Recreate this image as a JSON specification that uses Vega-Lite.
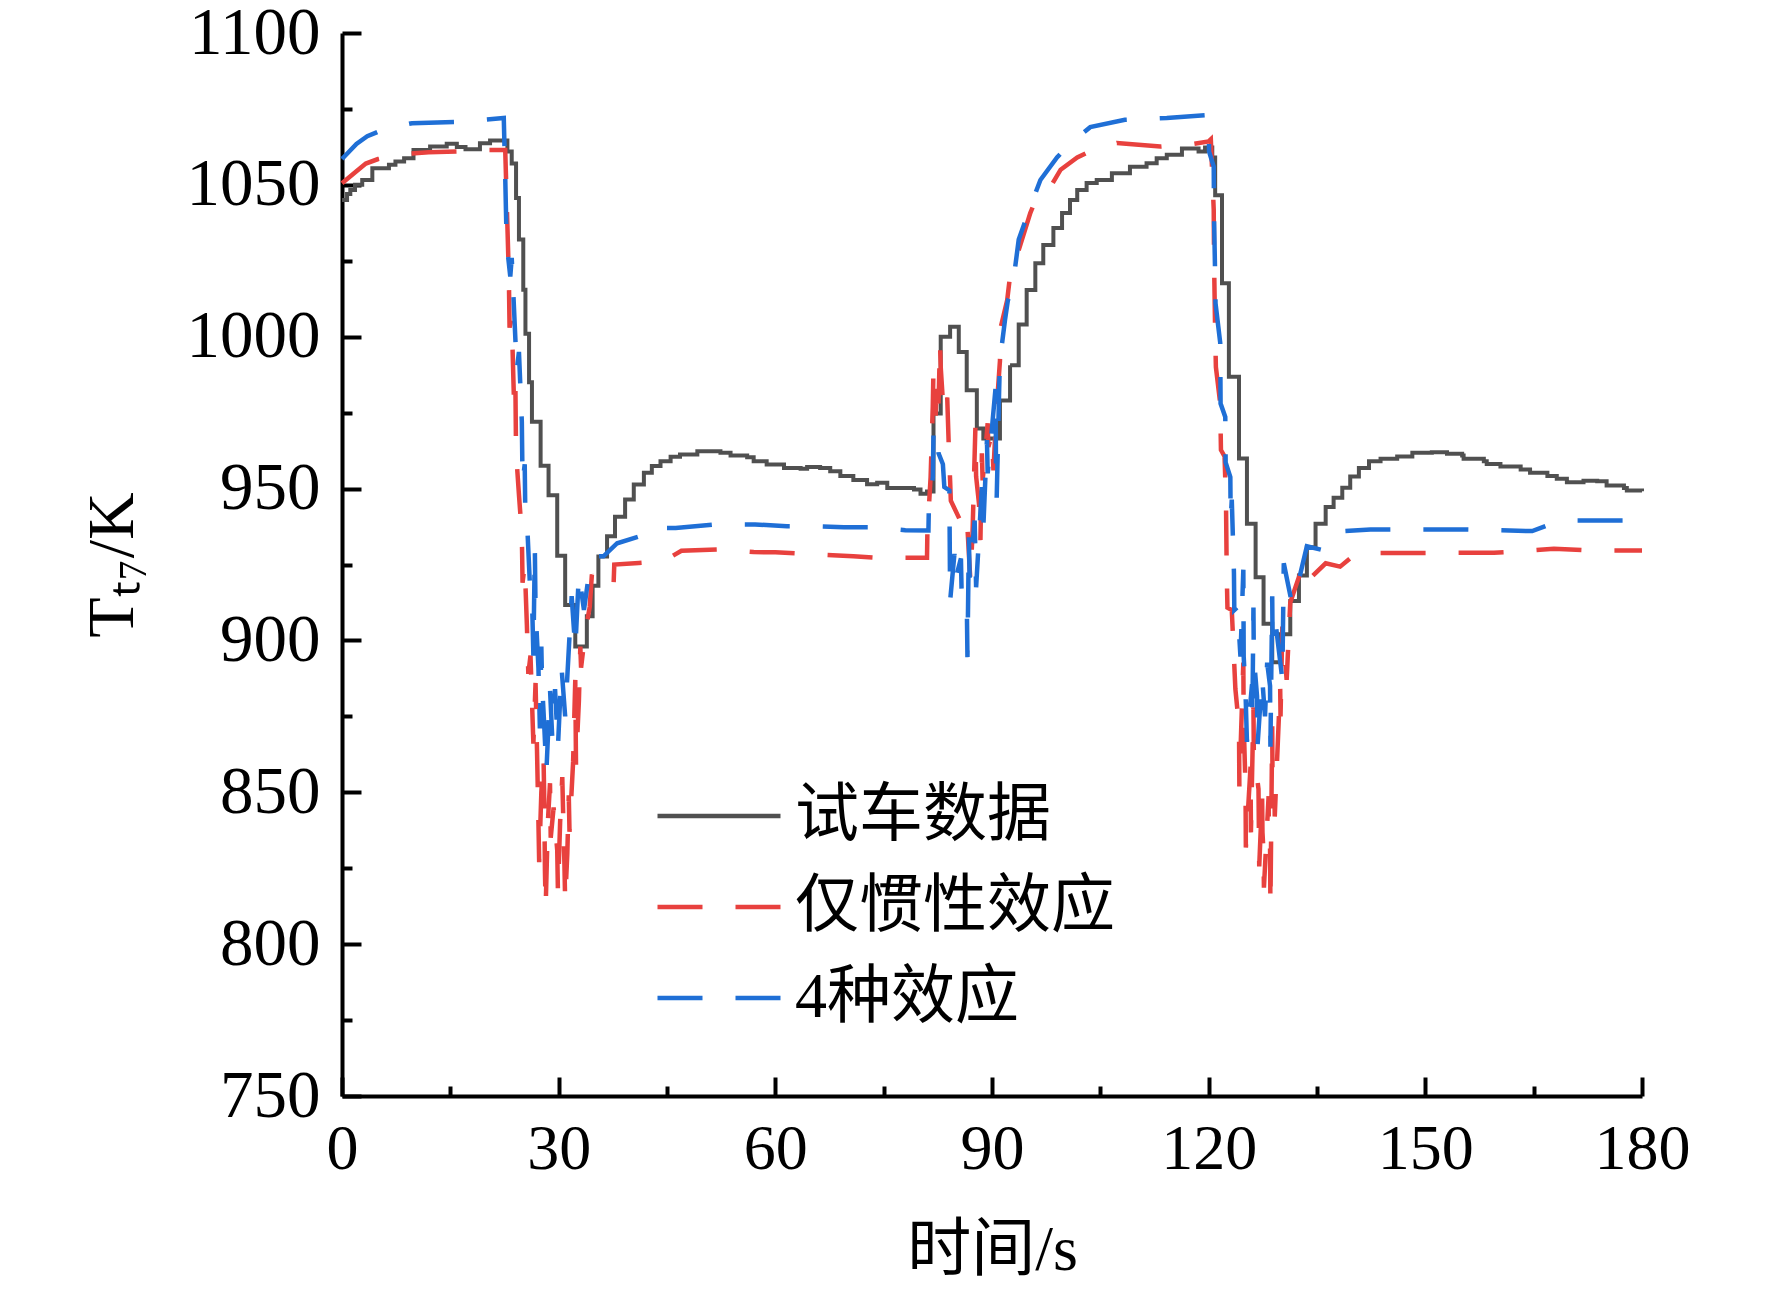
{
 "$schema": "https://vega.github.io/schema/vega-lite/v6.json",
 "width": 1300, "height": 1063,
 "autosize": {"type": "none"},
 "padding": {"left": 342, "top": 33, "right": 130, "bottom": 195},
 "background": "white",
 "config": {"view": {"stroke": null}, "font": "Liberation Serif"},
 "data": {"values": [
{"s":"试车数据","t":0,"v":1045},{"s":"试车数据","t":0.7,"v":1047},{"s":"试车数据","t":1.15,"v":1048.3},{"s":"试车数据","t":1.8,"v":1050},{"s":"试车数据","t":2.8,"v":1051.6},{"s":"试车数据","t":4.2,"v":1055.5},{"s":"试车数据","t":6.5,"v":1056.6},{"s":"试车数据","t":7.4,"v":1057.7},{"s":"试车数据","t":8.6,"v":1058.8},{"s":"试车数据","t":9.9,"v":1061.5},{"s":"试车数据","t":12.2,"v":1062.6},{"s":"试车数据","t":14.5,"v":1063.5},{"s":"试车数据","t":15.9,"v":1062.5},{"s":"试车数据","t":17.1,"v":1061.7},{"s":"试车数据","t":19.1,"v":1063.7},{"s":"试车数据","t":20.5,"v":1064.6},{"s":"试车数据","t":22.9,"v":1061},{"s":"试车数据","t":23.5,"v":1057},{"s":"试车数据","t":24.1,"v":1045.7},{"s":"试车数据","t":24.5,"v":1032},{"s":"试车数据","t":25.1,"v":1015.5},{"s":"试车数据","t":25.4,"v":1001},{"s":"试车数据","t":25.9,"v":985},{"s":"试车数据","t":26.3,"v":972},{"s":"试车数据","t":27.5,"v":957.5},{"s":"试车数据","t":28.6,"v":947.8},{"s":"试车数据","t":29.8,"v":927.9},{"s":"试车数据","t":30.9,"v":911.7},{"s":"试车数据","t":32.3,"v":898},{"s":"试车数据","t":33.9,"v":908},{"s":"试车数据","t":34.7,"v":918},{"s":"试车数据","t":35.5,"v":927.6},{"s":"试车数据","t":36.7,"v":934.3},{"s":"试车数据","t":37.8,"v":940.7},{"s":"试车数据","t":39.2,"v":946.4},{"s":"试车数据","t":40.4,"v":951.3},{"s":"试车数据","t":41.8,"v":955.2},{"s":"试车数据","t":42.9,"v":957.4},{"s":"试车数据","t":44.1,"v":959},{"s":"试车数据","t":45.5,"v":960.5},{"s":"试车数据","t":46.8,"v":961.2},{"s":"试车数据","t":49.2,"v":962.3},{"s":"试车数据","t":52.4,"v":961.8},{"s":"试车数据","t":53.8,"v":960.9},{"s":"试车数据","t":56.1,"v":960.3},{"s":"试车数据","t":57,"v":959},{"s":"试车数据","t":58.8,"v":957.9},{"s":"试车数据","t":61.2,"v":956.8},{"s":"试车数据","t":63.5,"v":956.5},{"s":"试车数据","t":64.4,"v":957.1},{"s":"试车数据","t":66.2,"v":956.8},{"s":"试车数据","t":67.6,"v":955.7},{"s":"试车数据","t":69,"v":954.1},{"s":"试车数据","t":70.8,"v":952.8},{"s":"试车数据","t":72.7,"v":951.4},{"s":"试车数据","t":74.1,"v":951.9},{"s":"试车数据","t":75.5,"v":950.2},{"s":"试车数据","t":79.2,"v":949.7},{"s":"试车数据","t":80.1,"v":948.3},{"s":"试车数据","t":81,"v":949},{"s":"试车数据","t":81.9,"v":974.7},{"s":"试车数据","t":82.9,"v":1000},{"s":"试车数据","t":84.2,"v":1003.3},{"s":"试车数据","t":85.4,"v":995},{"s":"试车数据","t":86.5,"v":982.4},{"s":"试车数据","t":87.9,"v":969.8},{"s":"试车数据","t":88.8,"v":966.5},{"s":"试车数据","t":91.1,"v":979},{"s":"试车数据","t":92.5,"v":990.6},{"s":"试车数据","t":93.7,"v":1004},{"s":"试车数据","t":94.8,"v":1015.4},{"s":"试车数据","t":96,"v":1024.2},{"s":"试车数据","t":97.1,"v":1030.2},{"s":"试车数据","t":98.5,"v":1035.8},{"s":"试车数据","t":99.7,"v":1040.7},{"s":"试车数据","t":100.8,"v":1045},{"s":"试车数据","t":101.8,"v":1048.3},{"s":"试车数据","t":103.1,"v":1050.6},{"s":"试车数据","t":104.5,"v":1051.6},{"s":"试车数据","t":106.6,"v":1053.8},{"s":"试车数据","t":109.1,"v":1056},{"s":"试车数据","t":111.4,"v":1057.1},{"s":"试车数据","t":112.8,"v":1058.8},{"s":"试车数据","t":114.2,"v":1059.9},{"s":"试车数据","t":116.3,"v":1062},{"s":"试车数据","t":118.6,"v":1061},{"s":"试车数据","t":119.5,"v":1062.3},{"s":"试车数据","t":120.5,"v":1059},{"s":"试车数据","t":120.9,"v":1046.6},{"s":"试车数据","t":121.85,"v":1017.6},{"s":"试车数据","t":122.8,"v":986.8},{"s":"试车数据","t":124.2,"v":959.9},{"s":"试车数据","t":125.3,"v":938.4},{"s":"试车数据","t":126.5,"v":920.8},{"s":"试车数据","t":127.6,"v":905.5},{"s":"试车数据","t":128.8,"v":892.8},{"s":"试车数据","t":129.9,"v":902},{"s":"试车数据","t":131.3,"v":913},{"s":"试车数据","t":132.5,"v":921.4},{"s":"试车数据","t":133.6,"v":930.7},{"s":"试车数据","t":134.8,"v":938.4},{"s":"试车数据","t":136.2,"v":943.9},{"s":"试车数据","t":137.3,"v":947},{"s":"试车数据","t":138.5,"v":950.3},{"s":"试车数据","t":139.6,"v":954},{"s":"试车数据","t":140.8,"v":956.8},{"s":"试车数据","t":142.2,"v":959},{"s":"试车数据","t":143.8,"v":959.8},{"s":"试车数据","t":146.1,"v":960.6},{"s":"试车数据","t":148.2,"v":961.8},{"s":"试车数据","t":150.9,"v":962},{"s":"试车数据","t":153,"v":961.5},{"s":"试车数据","t":155.1,"v":960.9},{"s":"试车数据","t":155.3,"v":959.8},{"s":"试车数据","t":158.1,"v":959},{"s":"试车数据","t":158.5,"v":958.1},{"s":"试车数据","t":160.4,"v":957.3},{"s":"试车数据","t":163.2,"v":956.3},{"s":"试车数据","t":164.5,"v":955.2},{"s":"试车数据","t":166.9,"v":954.1},{"s":"试车数据","t":168.2,"v":953.2},{"s":"试车数据","t":169.6,"v":952.1},{"s":"试车数据","t":171.9,"v":952.6},{"s":"试车数据","t":173.8,"v":952.4},{"s":"试车数据","t":175.1,"v":951},{"s":"试车数据","t":177.5,"v":950.2},{"s":"试车数据","t":177.9,"v":949.4},{"s":"试车数据","t":180,"v":949.1},
{"s":"仅惯性效应","t":0,"v":1050.5},{"s":"仅惯性效应","t":1,"v":1052.5},{"s":"仅惯性效应","t":2,"v":1054.5},{"s":"仅惯性效应","t":3.3,"v":1057},{"s":"仅惯性效应","t":5,"v":1058.5},{"s":"仅惯性效应","t":8,"v":1060},{"s":"仅惯性效应","t":12,"v":1060.7},{"s":"仅惯性效应","t":16,"v":1061},{"s":"仅惯性效应","t":20,"v":1061.5},{"s":"仅惯性效应","t":22.6,"v":1061.5},{"s":"仅惯性效应","t":22.8,"v":1045},{"s":"仅惯性效应","t":23.1,"v":1020},{"s":"仅惯性效应","t":23.2,"v":1003},{"s":"仅惯性效应","t":23.5,"v":1006},{"s":"仅惯性效应","t":23.8,"v":980},{"s":"仅惯性效应","t":24,"v":986},{"s":"仅惯性效应","t":24.1,"v":962},{"s":"仅惯性效应","t":24.5,"v":948},{"s":"仅惯性效应","t":24.9,"v":935},{"s":"仅惯性效应","t":25,"v":919},{"s":"仅惯性效应","t":25.3,"v":925},{"s":"仅惯性效应","t":25.6,"v":905},{"s":"仅惯性效应","t":25.8,"v":889},{"s":"仅惯性效应","t":26.1,"v":895},{"s":"仅惯性效应","t":26.5,"v":866},{"s":"仅惯性效应","t":26.8,"v":886},{"s":"仅惯性效应","t":27,"v":864},{"s":"仅惯性效应","t":27.2,"v":840},{"s":"仅惯性效应","t":27.3,"v":827},{"s":"仅惯性效应","t":27.6,"v":850},{"s":"仅惯性效应","t":27.9,"v":862},{"s":"仅惯性效应","t":28,"v":848},{"s":"仅惯性效应","t":28.1,"v":824},{"s":"仅惯性效应","t":28.2,"v":812},{"s":"仅惯性效应","t":28.5,"v":840},{"s":"仅惯性效应","t":28.8,"v":853},{"s":"仅惯性效应","t":28.9,"v":835},{"s":"仅惯性效应","t":29.3,"v":845},{"s":"仅惯性效应","t":29.8,"v":831},{"s":"仅惯性效应","t":29.9,"v":817},{"s":"仅惯性效应","t":30.2,"v":840},{"s":"仅惯性效应","t":30.5,"v":855},{"s":"仅惯性效应","t":30.6,"v":845},{"s":"仅惯性效应","t":30.8,"v":826},{"s":"仅惯性效应","t":30.9,"v":814},{"s":"仅惯性效应","t":31.2,"v":830},{"s":"仅惯性效应","t":31.4,"v":849},{"s":"仅惯性效应","t":31.5,"v":837},{"s":"仅惯性效应","t":32,"v":860},{"s":"仅惯性效应","t":32.3,"v":887},{"s":"仅惯性效应","t":32.4,"v":859},{"s":"仅惯性效应","t":32.8,"v":880},{"s":"仅惯性效应","t":33,"v":898},{"s":"仅惯性效应","t":33.1,"v":891},{"s":"仅惯性效应","t":33.7,"v":903},{"s":"仅惯性效应","t":34.3,"v":911},{"s":"仅惯性效应","t":34.6,"v":921.7},{"s":"仅惯性效应","t":35.2,"v":918},{"s":"仅惯性效应","t":37.6,"v":918},{"s":"仅惯性效应","t":37.7,"v":925},{"s":"仅惯性效应","t":41.1,"v":925.5},{"s":"仅惯性效应","t":44.5,"v":926.1},{"s":"仅惯性效应","t":47,"v":929.5},{"s":"仅惯性效应","t":52.2,"v":930},{"s":"仅惯性效应","t":57,"v":929.1},{"s":"仅惯性效应","t":60,"v":929},{"s":"仅惯性效应","t":64,"v":928.5},{"s":"仅惯性效应","t":70.8,"v":927.7},{"s":"仅惯性效应","t":74,"v":927.2},{"s":"仅惯性效应","t":81,"v":927.2},{"s":"仅惯性效应","t":81.05,"v":935},{"s":"仅惯性效应","t":81.5,"v":953.8},{"s":"仅惯性效应","t":81.8,"v":977},{"s":"仅惯性效应","t":81.9,"v":990},{"s":"仅惯性效应","t":82.2,"v":974},{"s":"仅惯性效应","t":82.4,"v":986},{"s":"仅惯性效应","t":82.6,"v":978},{"s":"仅惯性效应","t":82.8,"v":998},{"s":"仅惯性效应","t":82.9,"v":990},{"s":"仅惯性效应","t":83.3,"v":975},{"s":"仅惯性效应","t":83.8,"v":980},{"s":"仅惯性效应","t":84,"v":965},{"s":"仅惯性效应","t":84.2,"v":952.7},{"s":"仅惯性效应","t":84.3,"v":946},{"s":"仅惯性效应","t":85.5,"v":940},{"s":"仅惯性效应","t":86.1,"v":934},{"s":"仅惯性效应","t":86.6,"v":937},{"s":"仅惯性效应","t":87,"v":920},{"s":"仅惯性效应","t":87.3,"v":935},{"s":"仅惯性效应","t":87.7,"v":970},{"s":"仅惯性效应","t":87.8,"v":954},{"s":"仅惯性效应","t":88.2,"v":945},{"s":"仅惯性效应","t":88.4,"v":933},{"s":"仅惯性效应","t":88.6,"v":961.6},{"s":"仅惯性效应","t":88.7,"v":952.7},{"s":"仅惯性效应","t":89,"v":960},{"s":"仅惯性效应","t":89.4,"v":971.5},{"s":"仅惯性效应","t":89.5,"v":963.7},{"s":"仅惯性效应","t":90,"v":968},{"s":"仅惯性效应","t":90.2,"v":956},{"s":"仅惯性效应","t":90.6,"v":975},{"s":"仅惯性效应","t":91.1,"v":992},{"s":"仅惯性效应","t":91.2,"v":1003},{"s":"仅惯性效应","t":92.1,"v":1012},{"s":"仅惯性效应","t":92.5,"v":1020},{"s":"仅惯性效应","t":93.7,"v":1028.5},{"s":"仅惯性效应","t":95.3,"v":1040.7},{"s":"仅惯性效应","t":96.2,"v":1046},{"s":"仅惯性效应","t":98.1,"v":1049.4},{"s":"仅惯性效应","t":99.5,"v":1055},{"s":"仅惯性效应","t":101.8,"v":1059},{"s":"仅惯性效应","t":104,"v":1061.5},{"s":"仅惯性效应","t":107.3,"v":1063.8},{"s":"仅惯性效应","t":113.3,"v":1062.6},{"s":"仅惯性效应","t":118,"v":1063.5},{"s":"仅惯性效应","t":120,"v":1064.3},{"s":"仅惯性效应","t":120.3,"v":1065},{"s":"仅惯性效应","t":120.7,"v":1041.8},{"s":"仅惯性效应","t":120.75,"v":1024.3},{"s":"仅惯性效应","t":120.9,"v":1001.3},{"s":"仅惯性效应","t":121,"v":990},{"s":"仅惯性效应","t":121.6,"v":978},{"s":"仅惯性效应","t":121.7,"v":962.7},{"s":"仅惯性效应","t":122.2,"v":960.6},{"s":"仅惯性效应","t":122.4,"v":945.4},{"s":"仅惯性效应","t":122.5,"v":922.3},{"s":"仅惯性效应","t":122.6,"v":910.8},{"s":"仅惯性效应","t":123.2,"v":910},{"s":"仅惯性效应","t":123.7,"v":884},{"s":"仅惯性效应","t":124.2,"v":871.7},{"s":"仅惯性效应","t":124.25,"v":851.9},{"s":"仅惯性效应","t":124.8,"v":892.7},{"s":"仅惯性效应","t":124.85,"v":872.9},{"s":"仅惯性效应","t":125.1,"v":851.9},{"s":"仅惯性效应","t":125.15,"v":831.8},{"s":"仅惯性效应","t":125.8,"v":858.5},{"s":"仅惯性效应","t":125.85,"v":836.8},{"s":"仅惯性效应","t":126.2,"v":878},{"s":"仅惯性效应","t":126.25,"v":864},{"s":"仅惯性效应","t":126.9,"v":851},{"s":"仅惯性效应","t":127,"v":825.6},{"s":"仅惯性效应","t":127.4,"v":848.7},{"s":"仅惯性效应","t":127.45,"v":836.8},{"s":"仅惯性效应","t":127.6,"v":830},{"s":"仅惯性效应","t":127.65,"v":818.6},{"s":"仅惯性效应","t":128.3,"v":848.7},{"s":"仅惯性效应","t":128.35,"v":832},{"s":"仅惯性效应","t":128.5,"v":832},{"s":"仅惯性效应","t":128.55,"v":812.4},{"s":"仅惯性效应","t":128.8,"v":871.7},{"s":"仅惯性效应","t":128.85,"v":851},{"s":"仅惯性效应","t":129.1,"v":851.9},{"s":"仅惯性效应","t":129.15,"v":842},{"s":"仅惯性效应","t":129.9,"v":885},{"s":"仅惯性效应","t":129.95,"v":875},{"s":"仅惯性效应","t":130.2,"v":904.6},{"s":"仅惯性效应","t":130.8,"v":887},{"s":"仅惯性效应","t":131.3,"v":912.5},{"s":"仅惯性效应","t":132.7,"v":922.3},{"s":"仅惯性效应","t":133.4,"v":917},{"s":"仅惯性效应","t":134.3,"v":921},{"s":"仅惯性效应","t":136.2,"v":925.4},{"s":"仅惯性效应","t":138.2,"v":924.3},{"s":"仅惯性效应","t":140.5,"v":928.8},{"s":"仅惯性效应","t":147.9,"v":928.8},{"s":"仅惯性效应","t":159.5,"v":928.9},{"s":"仅惯性效应","t":163.4,"v":929.4},{"s":"仅惯性效应","t":167.8,"v":930.2},{"s":"仅惯性效应","t":173.1,"v":929.6},{"s":"仅惯性效应","t":180,"v":929.6},
{"s":"4种效应","t":0,"v":1058.5},{"s":"4种效应","t":1,"v":1061},{"s":"4种效应","t":2,"v":1063.5},{"s":"4种效应","t":3.5,"v":1066},{"s":"4种效应","t":6,"v":1068.5},{"s":"4种效应","t":9.7,"v":1070.3},{"s":"4种效应","t":16.4,"v":1070.8},{"s":"4种效应","t":22.4,"v":1072},{"s":"4种效应","t":22.6,"v":1052.7},{"s":"4种效应","t":22.8,"v":1030.8},{"s":"4种效应","t":23.3,"v":1019.8},{"s":"4种效应","t":23.5,"v":1026},{"s":"4种效应","t":24.2,"v":989},{"s":"4种效应","t":24.5,"v":995},{"s":"4种效应","t":24.9,"v":972},{"s":"4种效应","t":25,"v":952},{"s":"4种效应","t":25.3,"v":958},{"s":"4种效应","t":25.4,"v":938.3},{"s":"4种效应","t":25.7,"v":935},{"s":"4种效应","t":26,"v":919.4},{"s":"4种效应","t":26.3,"v":914.6},{"s":"4种效应","t":26.5,"v":895},{"s":"4种效应","t":26.7,"v":930.6},{"s":"4种效应","t":26.8,"v":910},{"s":"4种效应","t":27.2,"v":891},{"s":"4种效应","t":27.4,"v":871},{"s":"4种效应","t":27.6,"v":898},{"s":"4种效应","t":27.7,"v":886},{"s":"4种效应","t":28,"v":872},{"s":"4种效应","t":28.3,"v":856.7},{"s":"4种效应","t":28.8,"v":884},{"s":"4种效应","t":29.1,"v":868.5},{"s":"4种效应","t":29.5,"v":884},{"s":"4种效应","t":29.9,"v":865},{"s":"4种效应","t":30.4,"v":891},{"s":"4种效应","t":30.9,"v":875},{"s":"4种效应","t":31.8,"v":914.6},{"s":"4种效应","t":32.3,"v":897},{"s":"4种效应","t":32.8,"v":922},{"s":"4种效应","t":33.5,"v":910},{"s":"4种效应","t":34.2,"v":922},{"s":"4种效应","t":35,"v":927.7},{"s":"4种效应","t":36.2,"v":927.7},{"s":"4种效应","t":38.1,"v":932},{"s":"4种效应","t":42,"v":934.9},{"s":"4种效应","t":44.3,"v":935},{"s":"4种效应","t":44.8,"v":937},{"s":"4种效应","t":46.2,"v":937},{"s":"4种效应","t":51.7,"v":938.2},{"s":"4种效应","t":57.2,"v":938.2},{"s":"4种效应","t":61.6,"v":937.6},{"s":"4种效应","t":65.8,"v":937.6},{"s":"4种效应","t":69.5,"v":937.3},{"s":"4种效应","t":73.2,"v":937.3},{"s":"4种效应","t":78,"v":936.3},{"s":"4种效应","t":81.2,"v":936.2},{"s":"4种效应","t":81.25,"v":943},{"s":"4种效应","t":81.8,"v":953.7},{"s":"4种效应","t":81.9,"v":968},{"s":"4种效应","t":82.4,"v":970},{"s":"4种效应","t":82.6,"v":961.6},{"s":"4种效应","t":83.2,"v":958},{"s":"4种效应","t":83.4,"v":950.5},{"s":"4种效应","t":84.1,"v":949.4},{"s":"4种效应","t":84.2,"v":913},{"s":"4种效应","t":84.8,"v":928.5},{"s":"4种效应","t":84.9,"v":919.8},{"s":"4种效应","t":85.7,"v":927},{"s":"4种效应","t":85.8,"v":915},{"s":"4种效应","t":86.5,"v":914},{"s":"4种效应","t":86.6,"v":894.5},{"s":"4种效应","t":86.8,"v":934},{"s":"4种效应","t":86.9,"v":920.7},{"s":"4种效应","t":87.6,"v":939.5},{"s":"4种效应","t":87.8,"v":917.5},{"s":"4种效应","t":88.6,"v":950.5},{"s":"4种效应","t":88.8,"v":937.3},{"s":"4种效应","t":89.3,"v":966},{"s":"4种效应","t":89.4,"v":955},{"s":"4种效应","t":90,"v":970},{"s":"4种效应","t":90.5,"v":983.4},{"s":"4种效应","t":90.55,"v":958},{"s":"4种效应","t":90.65,"v":947},{"s":"4种效应","t":91,"v":983.4},{"s":"4种效应","t":91.1,"v":992.3},{"s":"4种效应","t":91.8,"v":1005.5},{"s":"4种效应","t":92.2,"v":1012},{"s":"4种效应","t":92.8,"v":1015.4},{"s":"4种效应","t":93.7,"v":1032},{"s":"4种效应","t":95.5,"v":1044},{"s":"4种效应","t":96.7,"v":1051.6},{"s":"4种效应","t":99,"v":1059},{"s":"4种效应","t":101,"v":1064},{"s":"4种效应","t":103.6,"v":1069},{"s":"4种效应","t":108.4,"v":1071.4},{"s":"4种效应","t":114.2,"v":1072},{"s":"4种效应","t":120,"v":1073},{"s":"4种效应","t":120.05,"v":1061},{"s":"4种效应","t":120.7,"v":1056},{"s":"4种效应","t":120.75,"v":1038.6},{"s":"4种效应","t":120.9,"v":1019.8},{"s":"4种效应","t":120.95,"v":1011},{"s":"4种效应","t":121.6,"v":998},{"s":"4种效应","t":121.65,"v":978},{"s":"4种效应","t":122.3,"v":973.6},{"s":"4种效应","t":122.35,"v":958.6},{"s":"4种效应","t":123,"v":953.8},{"s":"4种效应","t":123.05,"v":939.7},{"s":"4种效应","t":123.2,"v":946.4},{"s":"4种效应","t":123.5,"v":922.3},{"s":"4种效应","t":123.55,"v":910},{"s":"4种效应","t":124,"v":911},{"s":"4种效应","t":124.4,"v":894.7},{"s":"4种效应","t":124.8,"v":923.3},{"s":"4种效应","t":124.85,"v":894.7},{"s":"4种效应","t":125.1,"v":883},{"s":"4种效应","t":125.3,"v":866.6},{"s":"4种效应","t":126,"v":885.5},{"s":"4种效应","t":126.05,"v":874},{"s":"4种效应","t":126.2,"v":910.8},{"s":"4种效应","t":126.25,"v":894.7},{"s":"4种效应","t":126.7,"v":881.6},{"s":"4种效应","t":126.75,"v":864.8},{"s":"4种效应","t":127.4,"v":888},{"s":"4种效应","t":127.8,"v":875},{"s":"4种效应","t":128.1,"v":892.7},{"s":"4种效应","t":128.5,"v":885},{"s":"4种效应","t":128.55,"v":865},{"s":"4种效应","t":128.8,"v":914.5},{"s":"4种效应","t":128.85,"v":900.5},{"s":"4种效应","t":129.2,"v":907},{"s":"4种效应","t":130.2,"v":887.2},{"s":"4种效应","t":130.4,"v":925.4},{"s":"4种效应","t":131.5,"v":912.5},{"s":"4种效应","t":132.5,"v":920},{"s":"4种效应","t":133.6,"v":931},{"s":"4种效应","t":136.2,"v":929.5},{"s":"4种效应","t":138.9,"v":936},{"s":"4种效应","t":142.4,"v":936.5},{"s":"4种效应","t":155.8,"v":936.5},{"s":"4种效应","t":164.8,"v":936},{"s":"4种效应","t":167,"v":938},{"s":"4种效应","t":169.2,"v":939.5},{"s":"4种效应","t":180,"v":939.5}
 ]},
 "encoding": {
  "x": {"field": "t", "type": "quantitative",
   "scale": {"domain": [0, 180], "nice": false, "zero": false},
   "axis": {"values": [0,15,30,45,60,75,90,105,120,135,150,165,180],
    "labelExpr": "datum.value % 30 === 0 ? datum.label : ''", "format": "d",
    "tickSize": {"condition": {"test": "datum.value % 30 === 0", "value": -19}, "value": -10},
    "tickWidth": 4, "tickColor": "black", "domainColor": "black", "domainWidth": 4,
    "grid": false, "labelFontSize": 64, "labelColor": "black", "labelPadding": 40, "labelOverlap": false, "labelFlush": false,
    "title": "时间/s", "titleFont": "Liberation Serif, Noto Sans CJK SC", "titleFontSize": 64, "titleFontWeight": "normal", "titleColor": "black", "titlePadding": 28}},
  "y": {"field": "v", "type": "quantitative",
   "scale": {"domain": [750, 1100], "nice": false, "zero": false},
   "axis": {"values": [750,775,800,825,850,875,900,925,950,975,1000,1025,1050,1075,1100],
    "labelExpr": "datum.value % 50 === 0 ? datum.label : ''", "format": "d",
    "tickSize": {"condition": {"test": "datum.value % 50 === 0", "value": -19}, "value": -10},
    "tickWidth": 4, "tickColor": "black", "domainColor": "black", "domainWidth": 4,
    "grid": false, "labelFontSize": 67, "labelColor": "black", "labelPadding": 41, "labelOverlap": false, "labelFlush": false,
    "title": "Tₜ₇/K", "titleFont": "Liberation Serif", "titleFontSize": 66, "titleFontWeight": "normal", "titleColor": "black", "titlePadding": 40}},
  "color": {"field": "s", "type": "nominal",
   "scale": {"domain": ["试车数据", "仅惯性效应", "4种效应"], "range": ["#505050", "#e8413e", "#1f6fd6"]},
   "legend": {"title": null, "orient": "none", "legendX": 344, "legendY": 750, "padding": 0,
    "symbolType": "M-2,0H2", "symbolSize": 3782, "symbolStrokeWidth": 4.5,
    "labelFont": "Liberation Serif, Noto Sans CJK SC", "labelFontSize": 64, "labelColor": "black", "labelOffset": 43, "rowPadding": 26, "labelLimit": 0}},
  "strokeDash": {"field": "s", "type": "nominal",
   "scale": {"domain": ["试车数据", "仅惯性效应", "4种效应"], "range": [[1, 0], [45, 33], [45, 33]]},
   "legend": {"title": null, "orient": "none", "legendX": 344, "legendY": 750, "padding": 0,
    "symbolType": "M-2,0H2", "symbolSize": 3782, "symbolStrokeWidth": 4.5,
    "labelFont": "Liberation Serif, Noto Sans CJK SC", "labelFontSize": 64, "labelColor": "black", "labelOffset": 43, "rowPadding": 26, "labelLimit": 0}}
 },
 "layer": [
  {"transform": [{"filter": "datum.s === '试车数据'"}], "mark": {"type": "line", "interpolate": "step-after", "strokeWidth": 4}},
  {"transform": [{"filter": "datum.s === '仅惯性效应'"}], "mark": {"type": "line", "strokeWidth": 4.5}},
  {"transform": [{"filter": "datum.s === '4种效应'"}], "mark": {"type": "line", "strokeWidth": 4.5}}
 ]
}
